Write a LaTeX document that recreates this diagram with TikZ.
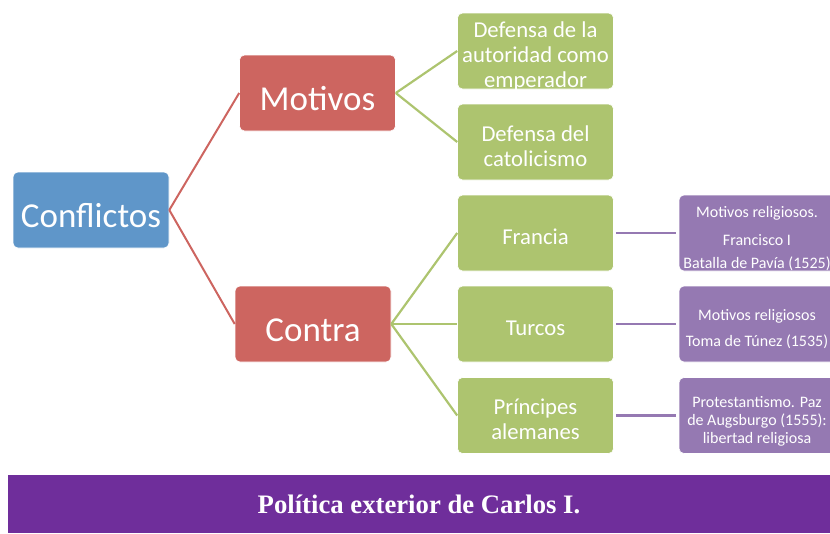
\documentclass[tikz,border=0pt]{standalone}
\usepackage{fontspec}
\setmainfont{Carlito}
\newfontfamily\bannerfont{Liberation Serif}
\usepackage{tikz}
\usetikzlibrary{positioning}

\definecolor{conflictblue}{HTML}{5F96C9}
\definecolor{causered}{HTML}{CD6560}
\definecolor{leafgreen}{HTML}{ADC46F}
\definecolor{notepurple}{HTML}{9579B2}
\definecolor{bannerpurple}{HTML}{6F2E9B}

\begin{document}
\begin{tikzpicture}[x=1pt,y=-1pt]
  \tikzset{box/.style = {shape=rectangle,rounded corners=5pt,draw=white,line width=0.6pt,text=white,align=center,minimum width=156pt,minimum height=76pt,inner sep=0pt}}
  \tikzset{lift/.style = {text height=#1,text depth=0pt}}
  \tikzset{root/.style = {box,fill=conflictblue,font=\fontsize{35}{40}\selectfont,lift=34.6pt}}
  \tikzset{cause/.style = {box,fill=causered,font=\fontsize{35}{40}\selectfont,lift=34.6pt}}
  \tikzset{leaf/.style = {box,fill=leafgreen,font=\fontsize{22.7}{25}\selectfont,lift=23pt}}
  \tikzset{note/.style = {box,fill=notepurple,font=\fontsize{16}{18}\selectfont}}
  \tikzset{redline/.style = {draw=causered,line width=2pt}}
  \tikzset{greenline/.style = {draw=leafgreen,line width=2.2pt}}
  \tikzset{purpleline/.style = {draw=notepurple,line width=2.6pt}}

  \useasboundingbox (0,0) rectangle (830,533);

	\node[root] (C) at (91,210) {Conflictos};

	\node[cause] (M) at (317.5,93) {Motivos};
	\node[cause] (K) at (313,324) {Contra};

	\node[leaf,lift=73pt] (Mauth) at (535.5,51) {Defensa de la\\autoridad como\\emperador};
	\node[leaf,lift=48pt] (Mcath) at (535.5,142) {Defensa del\\catolicismo};

	\node[leaf] (Kfr) at (535.5,233) {Francia};
	\node[leaf] (Ktu) at (535.5,324) {Turcos};
	\node[leaf,lift=48pt] (Kpr) at (535.5,415.5) {Príncipes\\alemanes};

		\node[note,lift=70.5pt] (Nfr) at (757,233) {Motivos religiosos.\\[10pt]Francisco I\\[5pt]Batalla de Pavía (1525)};
		\node[note,lift=45.5pt] (Ntu) at (757,324) {Motivos religiosos\\[8pt]Toma de Túnez (1535)};
		\node[note,lift=55.5pt] (Npr) at (757,415.5) {Protestantismo. Paz\\de Augsburgo (1555):\\libertad religiosa};

	\node[fill=bannerpurple,text=white,minimum width=823pt,minimum height=58pt,inner sep=0pt,
	      font=\bannerfont\bfseries\fontsize{26.7}{30}\selectfont] (T) at (419,504) {Política exterior de Carlos I.};

    \foreach \from/\to in {C/M, C/K}
    \path[redline] (\from.east) edge (\to.west);

    \foreach \from/\to in {M/Mauth, M/Mcath, K/Kfr, K/Ktu, K/Kpr}
    \path[greenline] (\from.east) edge (\to.west);

    \foreach \from/\to in {Kfr/Nfr, Ktu/Ntu, Kpr/Npr}
    \path[purpleline] ([xshift=2pt]\from.east) edge ([xshift=-3pt]\to.west);

\end{tikzpicture}
\end{document}
